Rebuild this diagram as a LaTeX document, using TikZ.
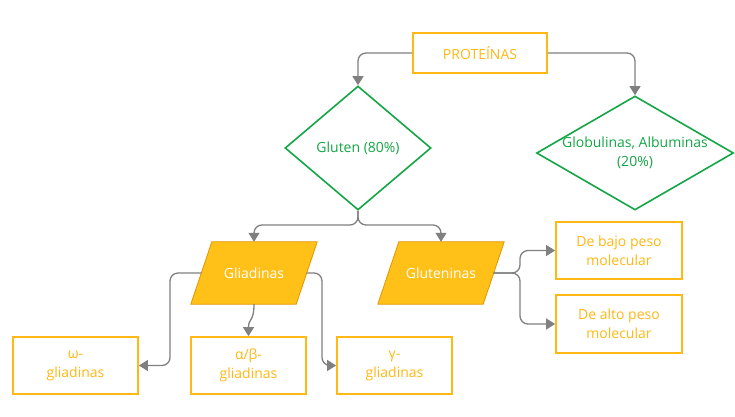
\documentclass[tikz,border=0pt]{standalone}
\usepackage{fontspec}
\setmainfont{Open Sans}
\usetikzlibrary{shapes.geometric,arrows.meta,backgrounds,calc}
\definecolor{org}{RGB}{255,184,20}
\definecolor{orgfill}{RGB}{255,192,24}
\definecolor{orgdark}{RGB}{226,150,0}
\definecolor{grn}{RGB}{20,166,70}
\definecolor{arrg}{RGB}{128,128,128}
\begin{document}
\begin{tikzpicture}[x=1pt,y=-1pt,
  font=\fontsize{14}{19}\selectfont,
  obox/.style={draw=org,line width=1.8pt,text=org,align=center,inner sep=0pt},
  gdia/.style={draw=grn,line width=1.6pt,shape=diamond,inner sep=0pt},
  para/.style={minimum width=105pt,minimum height=62pt,inner sep=0pt,text=white},
  parashape/.style={fill=orgfill,draw=orgdark,line width=0.8pt},
  arr/.style={draw=arrg,line width=1.3pt,rounded corners=8pt,
    -{Triangle[width=11pt,length=9pt]}}]
\useasboundingbox (0,0) rectangle (735,416);

\node[obox,minimum width=134pt,minimum height=40pt] (prot) at (480,53) {PROTEÍNAS};
\node[gdia,minimum width=146pt,minimum height=124pt,
  label={[text=grn]center:Gluten (80\%)}] (glu) at (358,148) {};
\node[gdia,minimum width=197pt,minimum height=114pt,
  label={[text=grn,align=center]center:Globulinas, Albuminas\\(20\%)}] (glob) at (635,153) {};

\node[para] (gli) at (254,273) {Gliadinas};
\node[para] (glt) at (441,273) {Gluteninas};
\begin{scope}[on background layer]
  \fill[white] (0,0) rectangle (735,416);
  \path[parashape] ($(gli.north west)+(10.5,0)$) -- ($(gli.north east)+(10.5,0)$)
    -- ($(gli.south east)+(-10.5,0)$) -- ($(gli.south west)+(-10.5,0)$) -- cycle;
  \path[parashape] ($(glt.north west)+(10.5,0)$) -- ($(glt.north east)+(10.5,0)$)
    -- ($(glt.south east)+(-10.5,0)$) -- ($(glt.south west)+(-10.5,0)$) -- cycle;
\end{scope}

\node[obox,minimum width=126pt,minimum height=57pt] (bajo) at (619,250.5) {De bajo peso\\molecular};
\node[obox,minimum width=126pt,minimum height=58pt] (alto) at (619,324) {De alto peso\\molecular};

\node[obox,minimum width=125pt,minimum height=57pt] (ome) at (75.5,365.5) {ω-\\gliadinas};
\node[obox,minimum width=115pt,minimum height=57pt] (ab) at (248.5,365.5) {α/β-\\gliadinas};
\node[obox,minimum width=115pt,minimum height=57pt] (gam) at (394.5,365.5) {γ-\\gliadinas};

\draw[arr] (prot.west) -| (glu.north);
\draw[arr] (prot.east) -| (glob.north);
\draw[arr] (glu.south) -- (358,225) -| (gli.north);
\draw[arr] (glu.south) -- (358,225) -| (glt.north);
\draw[arr] (glt.east) -- (520,273) |- (bajo.west);
\draw[arr] (glt.east) -- (520,273) |- (alto.west);
\draw[arr] (gli.west) -- (170,273) |- (ome.east);
\draw[arr] (gli.east) -- (322,273) |- (gam.west);
\draw[arr,rounded corners=0pt] (gli.south) .. controls (254,322) and (248.5,318) .. (ab.north);
\end{tikzpicture}
\end{document}
